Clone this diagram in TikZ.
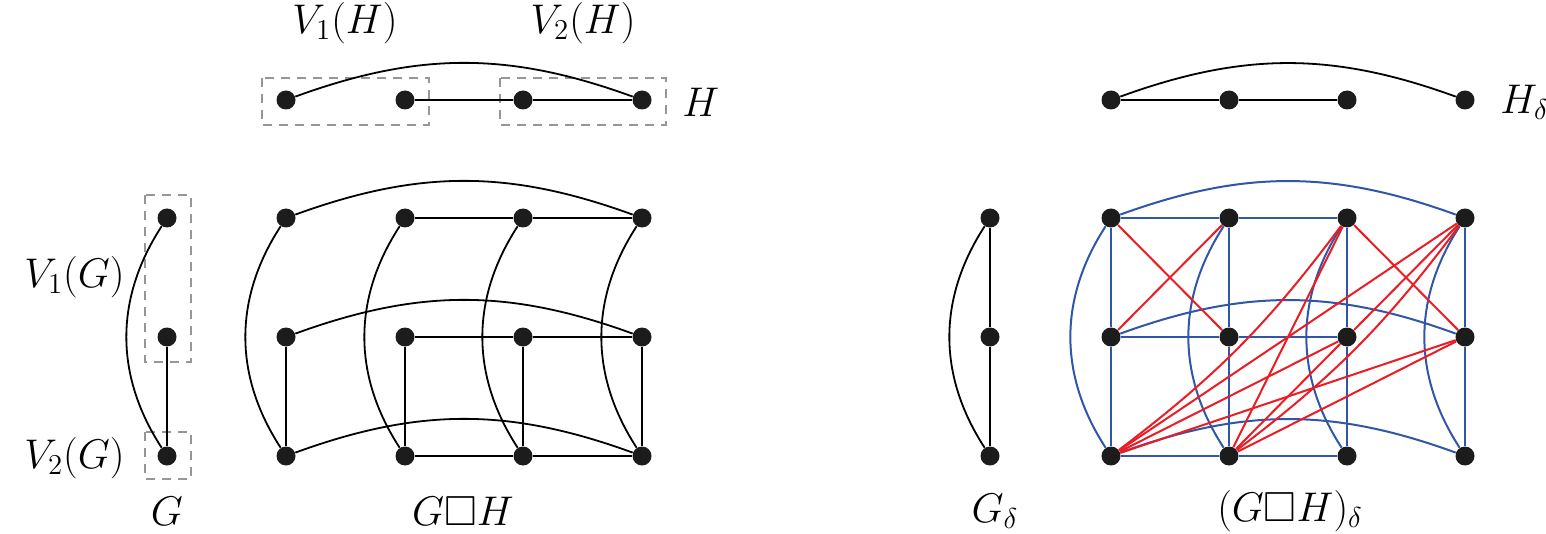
\documentclass[tikz,border=0pt]{standalone}
\usepackage{amssymb}
\definecolor{nodeblack}{RGB}{28,28,28}
\definecolor{blueE}{RGB}{48,86,168}
\definecolor{redE}{RGB}{236,28,36}
\definecolor{dashgray}{RGB}{150,150,150}
\pgfdeclarelayer{edges}
\pgfsetlayers{edges,main}
\begin{document}
\begin{tikzpicture}[x=0.5pt,y=0.5pt,
  vtx/.style={circle,fill=nodeblack,inner sep=0pt,minimum size=9.5pt},
  lbl/.style={font=\fontsize{21}{25}\selectfont,inner sep=0pt},
  bk/.style={line width=0.9pt,black},
  bl/.style={line width=1pt,blueE},
  rd/.style={line width=1pt,redE},
  grp/.style={draw=dashgray,line width=0.8pt,dash pattern=on 4.5pt off 3.5pt},
]
\useasboundingbox (0,0) rectangle (1546,-534);

% ---------- left part ----------
\foreach \y [count=\j] in {218,337,456} \node[vtx] (g\j) at (167,-\y) {};
\foreach \x [count=\i] in {286,405,523,642} {
  \node[vtx] (h\i) at (\x,-100) {};
  \foreach \y [count=\j] in {218,337,456} \node[vtx] (p\i\j) at (\x,-\y) {};
}
% ---------- right part ----------
\foreach \y [count=\j] in {218,337,456} \node[vtx] (d\j) at (990,-\y) {};
\foreach \x [count=\i] in {1111,1229,1347,1465} {
  \node[vtx] (e\i) at (\x,-100) {};
  \foreach \y [count=\j] in {218,337,456} \node[vtx] (q\i\j) at (\x,-\y) {};
}

% ---------- labels ----------
\node[lbl] (lv1h) at (345,-23) {$V_1(H)$};
\node[lbl] (lv2h) at (583,-23) {$V_2(H)$};
\node[lbl,anchor=west] (lh) at (682,-102) {$H$};
\node[lbl,anchor=east] (lv1g) at (125,-277) {$V_1(G)$};
\node[lbl,anchor=east] (lv2g) at (125,-458) {$V_2(G)$};
\node[lbl] (lg) at (167,-511) {$G$};
\node[lbl] (lgh) at (463,-511) {$G\square H$};
\node[lbl,anchor=west] (lhd) at (1500,-102) {$H_\delta$};
\node[lbl] (lgd) at (995,-511) {$G_\delta$};
\node[lbl] (lghd) at (1290,-511) {$(G\square H)_\delta$};

\begin{pgfonlayer}{edges}
% dashed groups
\draw[grp] (145,-195) rectangle (191,-362);
\draw[grp] (145,-432) rectangle (191,-479);
\draw[grp] (262,-78) rectangle (429,-125);
\draw[grp] (500,-78) rectangle (666,-125);

% G
\draw[bk] (g1) to[bend right=33] (g3);
\draw[bk] (g2) -- (g3);
% H
\draw[bk] (h1) to[bend left=20] (h4);
\draw[bk] (h2) -- (h3) -- (h4);
% G box H
\foreach \j in {1,2,3} {
  \draw[bk] (p1\j) to[bend left=20] (p4\j);
  \draw[bk] (p2\j) -- (p3\j) -- (p4\j);
}
\foreach \i in {1,...,4} {
  \draw[bk] (p\i1) to[bend right=33] (p\i3);
  \draw[bk] (p\i2) -- (p\i3);
}

% G delta
\draw[bk] (d1) -- (d2) -- (d3);
\draw[bk] (d1) to[bend right=33] (d3);
% H delta
\draw[bk] (e1) -- (e2) -- (e3);
\draw[bk] (e1) to[bend left=20] (e4);
% (G box H) delta, blue
\foreach \j in {1,2,3} {
  \draw[bl] (q1\j) -- (q2\j) -- (q3\j);
  \draw[bl] (q1\j) to[bend left=20] (q4\j);
}
\foreach \i in {1,...,4} {
  \draw[bl] (q\i1) -- (q\i2) -- (q\i3);
  \draw[bl] (q\i1) to[bend right=33] (q\i3);
}
% red
\draw[rd] (q11) -- (q22);
\draw[rd] (q21) -- (q12);
\draw[rd] (q31) -- (q42);
\draw[rd] (q41) -- (q32);
\draw[rd] (q13) to[bend right=8] (q31);
\draw[rd] (q13) -- (q41);
\draw[rd] (q13) -- (q32);
\draw[rd] (q13) -- (q42);
\draw[rd] (q23) -- (q31);
\draw[rd] (q23) to[bend right=8] (q41);
\draw[rd] (q23) -- (q32);
\draw[rd] (q23) -- (q42);
\end{pgfonlayer}
\end{tikzpicture}
\end{document}
